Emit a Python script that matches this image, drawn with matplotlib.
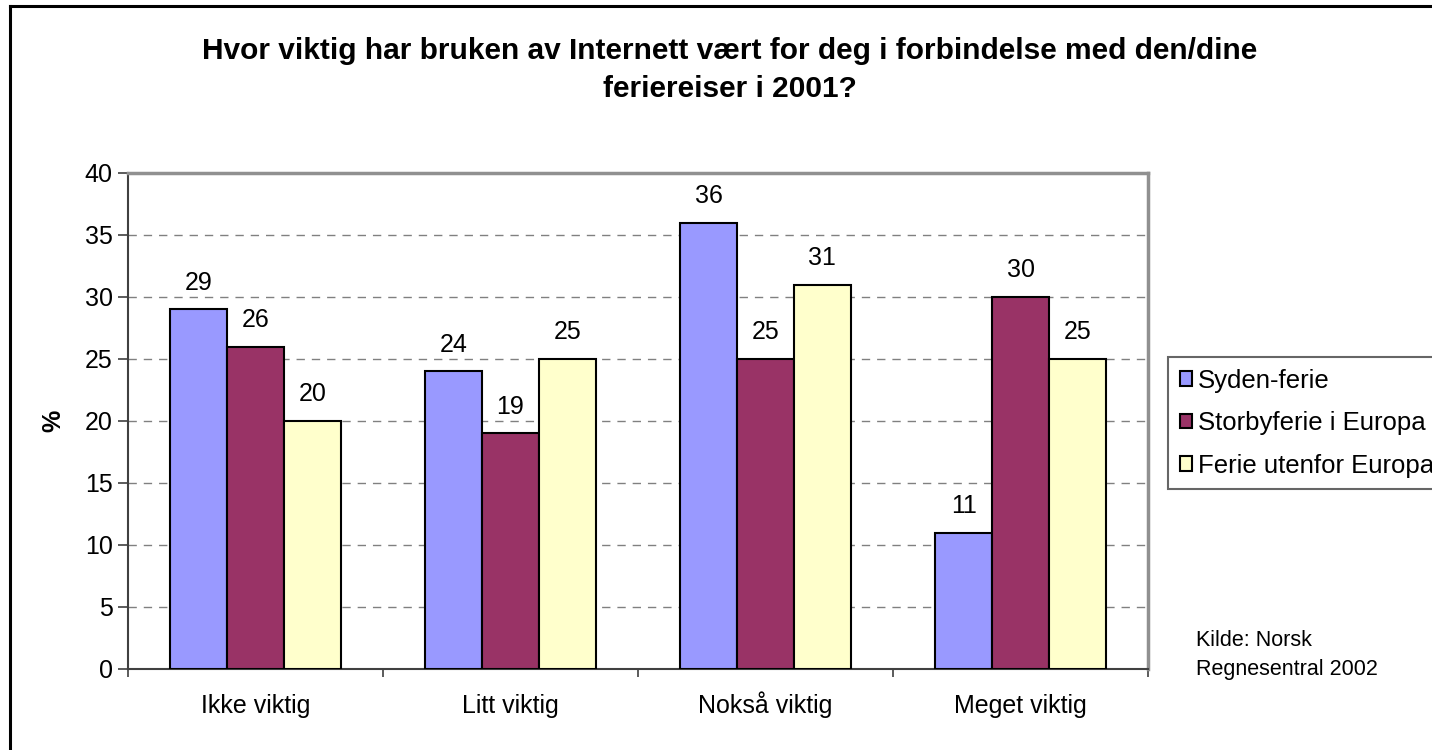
import matplotlib.pyplot as plt
import numpy as np
from matplotlib.lines import Line2D

plt.rcParams['font.family'] = ['Liberation Sans', 'DejaVu Sans']

categories = ["Ikke viktig", "Litt viktig", "Nokså viktig", "Meget viktig"]
series_names = ["Syden-ferie", "Storbyferie i Europa", "Ferie utenfor Europa"]
syden = [29, 24, 36, 11]
storby = [26, 19, 25, 30]
utenfor = [20, 25, 31, 25]
colors = ["#9999FF", "#993366", "#FFFFCC"]

fig = plt.figure(figsize=(14.32, 7.5), dpi=100)
ax = fig.add_axes([128 / 1432, 1 - 669 / 750, (1148 - 128) / 1432, (669 - 173) / 750])

x = np.arange(len(categories))
w = 0.223
for i, (vals, name, c) in enumerate(zip([syden, storby, utenfor], series_names, colors)):
    pos = x + (i - 1) * w
    ax.bar(pos, vals, width=w, color=c, edgecolor="black", linewidth=1.5, label=name, zorder=3)
    for p, v in zip(pos, vals):
        ax.text(p, v + 1.2, str(v), ha="center", va="bottom", fontsize=18)

ax.set_xlim(-0.5, 3.5)
ax.set_ylim(0, 40)
ax.set_yticks(range(0, 41, 5))
ax.set_xticks(x)
ax.set_xticklabels(categories, fontsize=18)
for t in ax.get_xticklabels():
    t.set_verticalalignment("baseline")
ax.set_xticks(np.arange(-0.5, 4, 1), minor=True)
ax.tick_params(axis="x", which="major", length=0, pad=32)
ax.tick_params(axis="x", which="minor", length=6, color="#404040", width=1.2)
ax.tick_params(axis="y", labelsize=18, length=7, color="#404040", width=1.2, pad=4)
ax.set_ylabel("%", fontsize=18, fontweight="bold", labelpad=14)

ax.grid(axis="y", linestyle=(0, (6, 5)), color="#808080", linewidth=1, zorder=0)
for s in ["left", "bottom"]:
    ax.spines[s].set_color("#404040")
    ax.spines[s].set_linewidth(1.5)
for s in ["top", "right"]:
    ax.spines[s].set_color("#909090")
    ax.spines[s].set_linewidth(2.5)

fig.text(730 / 1432, 1 - 51 / 750,
         "Hvor viktig har bruken av Internett vært for deg i forbindelse med den/dine",
         ha="center", va="center", fontsize=21.5, fontweight="bold")
fig.text(730 / 1432, 1 - 89 / 750, "feriereiser i 2001?",
         ha="center", va="center", fontsize=21.5, fontweight="bold")

leg = fig.legend(loc="upper left", bbox_to_anchor=(1168 / 1432, 1 - 357 / 750),
                 fontsize=18.5, frameon=True, fancybox=False, handlelength=0.5,
                 handleheight=0.5, handletextpad=0.2, labelspacing=0.72,
                 borderpad=0.45, borderaxespad=0)
leg.get_frame().set_edgecolor("#404040")
leg.get_frame().set_linewidth(1.5)

fig.text(1196 / 1432, 1 - 640 / 750, "Kilde: Norsk", ha="left", va="center", fontsize=15.5)
fig.text(1196 / 1432, 1 - 670 / 750, "Regnesentral 2002", ha="left", va="center", fontsize=15.5)

# outer chart frame
fig.add_artist(Line2D([10 / 1432, 10 / 1432], [0, 1 - 6 / 750], transform=fig.transFigure,
                      color="black", linewidth=2.2))
fig.add_artist(Line2D([10 / 1432, 1], [1 - 6 / 750, 1 - 6 / 750], transform=fig.transFigure,
                      color="black", linewidth=2.2))

fig.savefig("out.png", dpi=100)
